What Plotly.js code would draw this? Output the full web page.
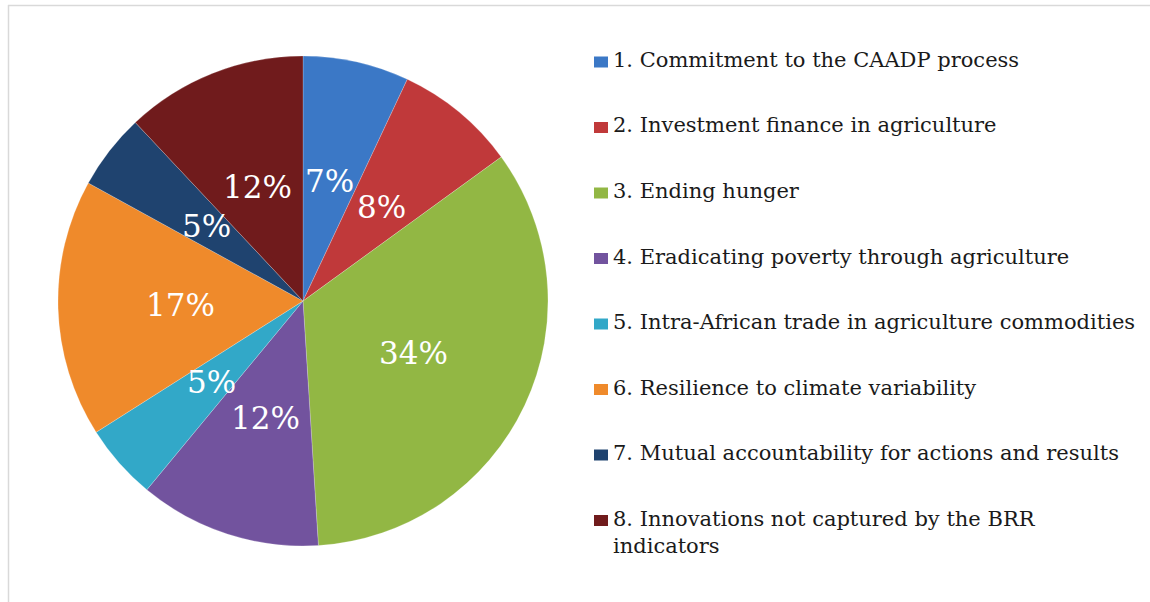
<!DOCTYPE html>
<html>
<head>
<meta charset="utf-8">
<script src="https://cdn.plot.ly/plotly-3.0.1.min.js"></script>
<style>html,body{margin:0;padding:0;background:#fff;}#chart{width:1150px;height:602px;}</style>
</head>
<body>
<div id="chart"></div>
<script>
var categories = [
  "1. Commitment to the CAADP process",
  "2. Investment finance in agriculture",
  "3. Ending hunger",
  "4. Eradicating poverty through agriculture",
  "5. Intra-African trade in agriculture commodities",
  "6. Resilience to climate variability",
  "7. Mutual accountability for actions and results",
  "8. Innovations not captured by the BRR<br>indicators"
];
var shares = [7, 8, 34, 12, 5, 17, 5, 12];
var pctLabels = ["7%", "8%", "34%", "12%", "5%", "17%", "5%", "12%"];
var colors = ["#3b78c6", "#c0393a", "#92b744", "#72539e", "#32a8c8", "#ef8a2b", "#1f436f", "#701b1c"];

var W = 1150, H = 602;
var cx = 303, cy = 301, R = 245;
var LEGEND_FONT = "DejaVu Serif";
var LABEL_FONT = "DejaVu Serif";

var trace = {
  type: "pie",
  values: shares,
  labels: categories,
  sort: false,
  direction: "clockwise",
  rotation: 0,
  textinfo: "none",
  showlegend: false,
  marker: {colors: colors, line: {color: "rgba(255,255,255,0.35)", width: 0.6}},
  domain: {x: [(cx - R) / W, (cx + R) / W], y: [(H - cy - R) / H, (H - cy + R) / H]}
};

var annotations = [];
var shapes = [];
var total = shares.reduce(function (a, b) { return a + b; }, 0);
var cum = 0;
for (var i = 0; i < shares.length; i++) {
  var mid = (cum + shares[i] / 2) / total * 2 * Math.PI;
  cum += shares[i];
  var px = cx + 0.5 * R * Math.sin(mid);
  var py = cy - 0.5 * R * Math.cos(mid);
  annotations.push({
    xref: "paper", yref: "paper", x: px / W, y: 1 - py / H,
    xanchor: "center", yanchor: "middle", showarrow: false,
    text: pctLabels[i], font: {family: LABEL_FONT, size: 31, color: "#ffffff"}
  });
}

var legTop = 62, legStep = 65.5;
for (var j = 0; j < categories.length; j++) {
  var yc = legTop + j * legStep;
  shapes.push({
    type: "rect", xref: "paper", yref: "paper",
    x0: 594 / W, x1: 608 / W, y0: 1 - (yc - 5.5) / H, y1: 1 - (yc + 5.5) / H,
    fillcolor: colors[j], line: {width: 0}
  });
  annotations.push({
    xref: "paper", yref: "paper", x: 611 / W, y: 1 - (yc - 16) / H,
    xanchor: "left", yanchor: "top", align: "left", showarrow: false,
    text: categories[j], font: {family: LEGEND_FONT, size: 21, color: "#1a1a1a"}
  });
}

shapes.push({type: "line", xref: "paper", yref: "paper", x0: 8.5 / W, x1: 8.5 / W, y0: 0, y1: 1 - 5 / H, line: {color: "#d9d9d9", width: 1.5}});
shapes.push({type: "line", xref: "paper", yref: "paper", x0: 8 / W, x1: 1, y0: 1 - 5.5 / H, y1: 1 - 5.5 / H, line: {color: "#d9d9d9", width: 1.5}});

var layout = {
  width: W, height: H,
  margin: {l: 0, r: 0, t: 0, b: 0},
  paper_bgcolor: "#ffffff",
  showlegend: false,
  annotations: annotations,
  shapes: shapes
};

Plotly.newPlot("chart", [trace], layout, {staticPlot: true});
</script>
</body>
</html>
